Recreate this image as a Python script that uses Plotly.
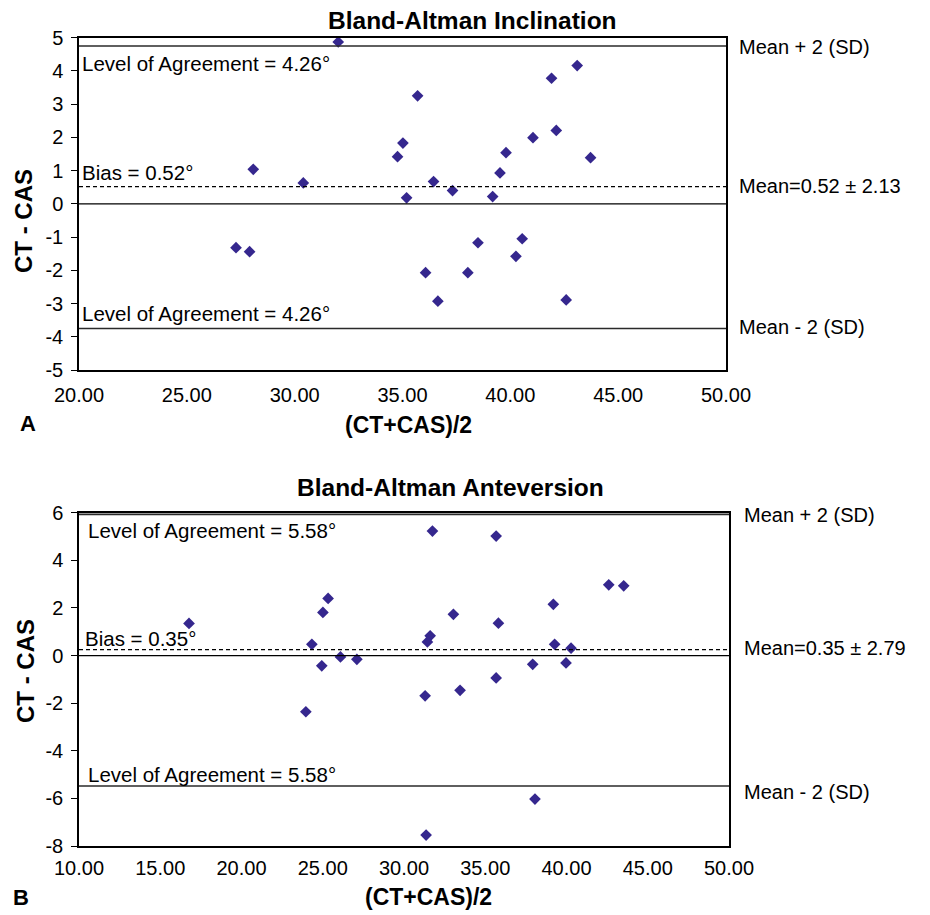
import plotly.graph_objects as go

# ---------------- data: panel A (Inclination) ----------------
incl_mean = [32.02, 35.70, 35.02, 34.77, 28.08, 30.40, 36.44, 37.32, 35.19, 27.28, 27.91, 36.07, 36.64,
             43.10, 41.91, 42.13, 41.05, 39.80, 43.72, 39.52, 39.18, 38.50, 40.55, 40.26, 38.03, 42.59]
incl_diff = [4.87, 3.25, 1.83, 1.42, 1.04, 0.63, 0.67, 0.40, 0.18, -1.32, -1.44, -2.07, -2.93,
             4.16, 3.78, 2.21, 1.99, 1.54, 1.39, 0.93, 0.22, -1.17, -1.05, -1.58, -2.07, -2.89]
incl_lines = {"upper": 4.75, "bias": 0.52, "zero": 0.0, "lower": -3.75}
incl_xticks = [20, 25, 30, 35, 40, 45, 50]
incl_xticklabels = ["20.00", "25.00", "30.00", "35.00", "40.00", "45.00", "50.00"]
incl_yticks = [-5, -4, -3, -2, -1, 0, 1, 2, 3, 4, 5]
incl_yticklabels = ["-5", "-4", "-3", "-2", "-1", "0", "1", "2", "3", "4", "5"]

# ---------------- data: panel B (Anteversion) ----------------
ante_mean = [16.77, 25.33, 25.01, 24.33, 24.94, 26.09, 27.10, 23.96, 31.75, 31.61, 31.44, 33.04, 31.30,
             33.45, 31.36, 35.67, 42.60, 43.52, 39.19, 35.81, 39.27, 40.28, 37.92, 39.97, 35.67, 38.06]
ante_diff = [1.35, 2.40, 1.81, 0.47, -0.43, -0.06, -0.16, -2.36, 5.23, 0.83, 0.57, 1.73, -1.69,
             -1.46, -7.54, 5.02, 2.97, 2.93, 2.15, 1.36, 0.47, 0.31, -0.37, -0.31, -0.94, -6.03]
ante_lines = {"upper": 5.93, "bias": 0.25, "zero": 0.0, "lower": -5.48}
ante_xticks = [10, 15, 20, 25, 30, 35, 40, 45, 50]
ante_xticklabels = ["10.00", "15.00", "20.00", "25.00", "30.00", "35.00", "40.00", "45.00", "50.00"]
ante_yticks = [-8, -6, -4, -2, 0, 2, 4, 6]
ante_yticklabels = ["-8", "-6", "-4", "-2", "0", "2", "4", "6"]

W, H = 930, 915
FONT = "Liberation Sans, Arial, sans-serif"
MARK = "#35278E"


def px(x):
    return x / W


def py(y):
    return 1 - y / H


fig = go.Figure()
fig.add_trace(go.Scatter(x=incl_mean, y=incl_diff, mode="markers", xaxis="x", yaxis="y",
                         marker=dict(symbol="diamond", size=9, color=MARK), hoverinfo="x+y"))
fig.add_trace(go.Scatter(x=ante_mean, y=ante_diff, mode="markers", xaxis="x2", yaxis="y2",
                         marker=dict(symbol="diamond", size=9, color=MARK), hoverinfo="x+y"))

shapes = []
for lines, yref, xref in [(incl_lines, "y", "x domain"), (ante_lines, "y2", "x2 domain")]:
    for key, val in lines.items():
        if key == "bias":
            ln = dict(color="black", width=1.2, dash="4px,3px")
        elif key == "zero":
            ln = dict(color="black", width=1.3)
        else:
            ln = dict(color="#2a2a2a", width=1.6)
        shapes.append(dict(type="line", xref=xref, yref=yref, x0=0, x1=1, y0=val, y1=val,
                           line=ln, layer="above"))

axis_common = dict(showline=True, mirror=True, linecolor="black", linewidth=1.5,
                   showgrid=False, zeroline=False, automargin=False,
                   tickfont=dict(family=FONT, size=20, color="black"))

ann = []


def text(x, y, s, size=20, bold=False, xanchor="left", angle=0):
    ann.append(dict(x=px(x), y=py(y), xref="paper", yref="paper", text=("<b>%s</b>" % s) if bold else s,
                    showarrow=False, xanchor=xanchor, yanchor="middle", textangle=angle,
                    font=dict(family=FONT, size=size, color="black")))


# titles
text(473, 20, "Bland-Altman Inclination", size=24.5, bold=True, xanchor="center")
text(450, 487, "Bland-Altman Anteversion", size=24.5, bold=True, xanchor="center")
# axis titles
text(24, 221, "CT - CAS", size=24, bold=True, xanchor="center", angle=-90)
text(25, 671, "CT - CAS", size=24, bold=True, xanchor="center", angle=-90)
text(408, 425, "(CT+CAS)/2", size=23, bold=True, xanchor="center")
text(428, 897, "(CT+CAS)/2", size=23, bold=True, xanchor="center")
text(28, 424, "A", size=22, bold=True, xanchor="center")
text(21, 897, "B", size=22, bold=True, xanchor="center")
# inside labels
text(80, 63, "Level of Agreement = 4.26°", size=20.5)
text(80, 172, "Bias = 0.52°", size=20.5)
text(80, 313, "Level of Agreement = 4.26°", size=20.5)
text(86, 530, "Level of Agreement = 5.58°", size=20.5)
text(83, 638, "Bias = 0.35°", size=20.5)
text(86, 774, "Level of Agreement = 5.58°", size=20.5)
# right labels
text(737, 47, "Mean + 2 (SD)")
text(737, 186, "Mean=0.52 ± 2.13")
text(737, 327, "Mean - 2 (SD)")
text(742, 515, "Mean + 2 (SD)")
text(742, 648, "Mean=0.35 ± 2.79")
text(742, 792, "Mean - 2 (SD)")

fig.update_layout(
    width=W, height=H, margin=dict(l=0, r=0, t=0, b=0, autoexpand=False),
    paper_bgcolor="white", plot_bgcolor="white", showlegend=False,
    font=dict(family=FONT, color="black"),
    xaxis=dict(domain=[px(79), px(726)], anchor="y", range=[20, 50], tickvals=incl_xticks,
               ticktext=incl_xticklabels, ticks="", ticklabelstandoff=6, **axis_common),
    yaxis=dict(domain=[py(370), py(37.7)], anchor="x", range=[-5, 5], tickvals=incl_yticks,
               ticktext=incl_yticklabels, ticks="outside", ticklen=6, tickcolor="black",
               ticklabelstandoff=4, **axis_common),
    xaxis2=dict(domain=[px(79), px(729)], anchor="y2", range=[10, 50], tickvals=ante_xticks,
                ticktext=ante_xticklabels, ticks="", ticklabelstandoff=3, **axis_common),
    yaxis2=dict(domain=[py(846), py(512.7)], anchor="x2", range=[-8, 6], tickvals=ante_yticks,
                ticktext=ante_yticklabels, ticks="outside", ticklen=6, tickcolor="black",
                ticklabelstandoff=4, **axis_common),
    shapes=shapes, annotations=ann,
)

fig.write_html("out.html", config={"displayModeBar": False},
               post_script="document.body.style.margin='0';")
